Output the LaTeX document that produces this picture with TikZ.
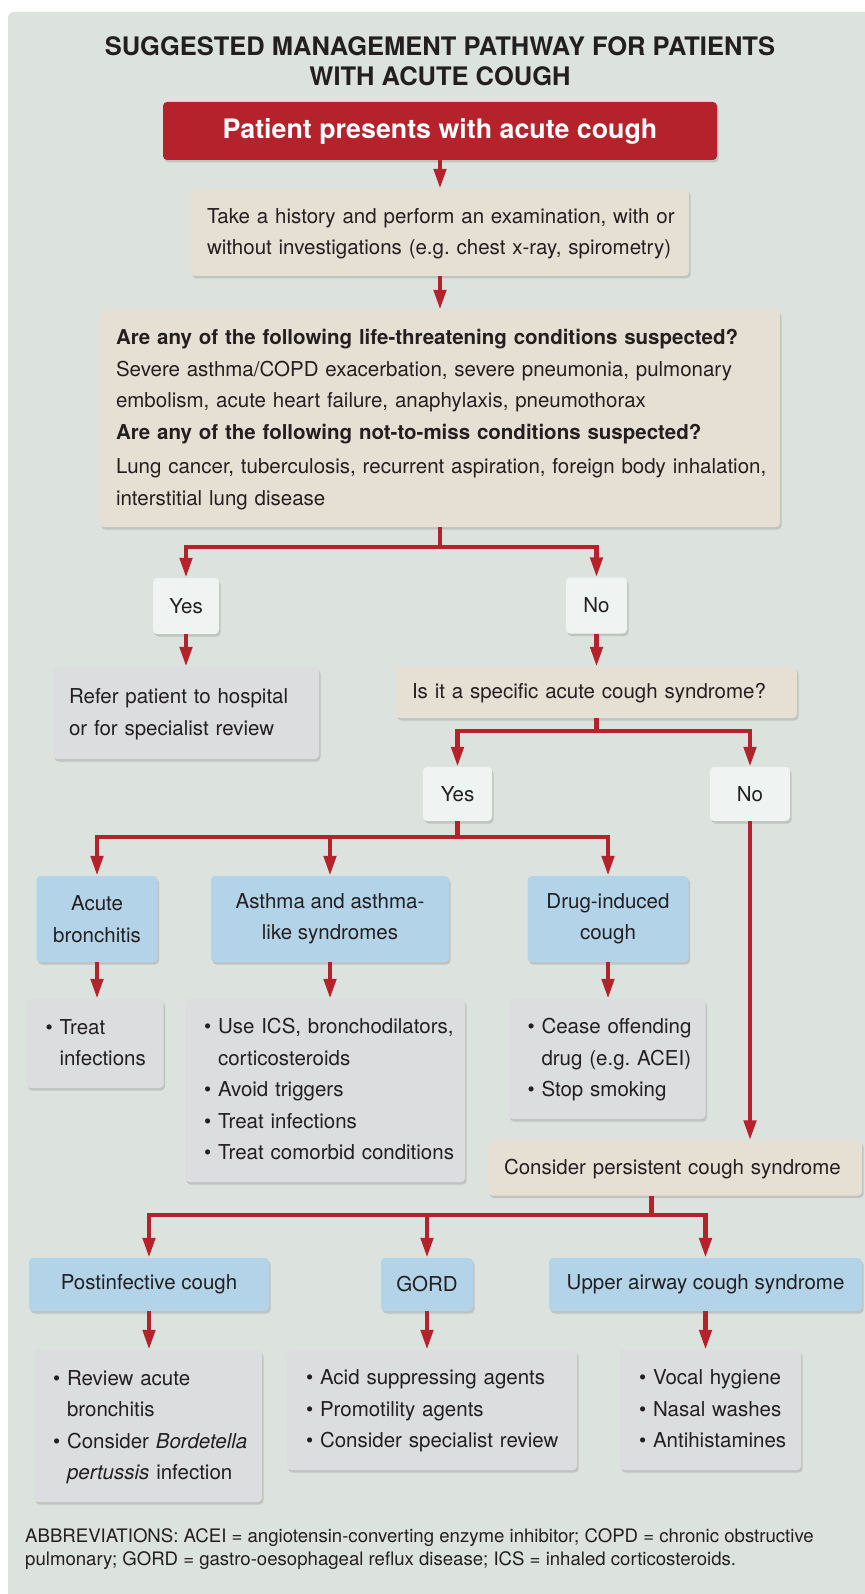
\documentclass[tikz,border=0pt]{standalone}
\usepackage{fontspec}
\setmainfont{TeX Gyre Heros}
\usetikzlibrary{arrows.meta,shadows}
\definecolor{panelbg}{HTML}{DCE2DE}
\definecolor{coughred}{HTML}{B5222B}
\definecolor{tanbox}{HTML}{E6DFD4}
\definecolor{greybox}{HTML}{DCDDDF}
\definecolor{bluebox}{HTML}{B3D4E8}
\definecolor{ynbox}{HTML}{EFF3F1}
\definecolor{ink}{HTML}{231F20}
\newcommand{\pbul}{\textbullet\ }
\newcommand{\pind}{\hphantom{\textbullet\ }}
\newcommand{\boxtext}[1]{\noindent\begin{tabular}{@{}l@{}}#1\end{tabular}}
\frenchspacing

\begin{document}
\begin{tikzpicture}[x=1pt,y=-1pt,
  every node/.style={text=ink},
  body/.style={font=\fontsize{20.5}{31.5}\selectfont},
  shade/.style={rounded corners=4pt,
    drop shadow={shadow xshift=1.5pt,shadow yshift=-2.5pt,opacity=.2,fill=black!70}},
  lbox/.style={shade,body,fill=#1,inner xsep=16pt,inner ysep=0pt,align=left},
  cbox/.style={shade,body,fill=#1,inner sep=0pt,align=center},
  arr/.style={draw=coughred,line width=4.5pt,-{Triangle[width=12pt,length=20pt]}}]
\useasboundingbox (0,0) rectangle (864,1594);
\fill[white] (0,0) rectangle (864,1594);
\fill[panelbg,rounded corners=6pt] (8,12) rectangle (880,1610);
% title
\node[font=\bfseries\fontsize{25.5}{30}\selectfont,align=center] (title) at (440,61)
  {SUGGESTED MANAGEMENT PATHWAY FOR PATIENTS\\WITH ACUTE COUGH};
% first steps
\node[cbox=coughred,text=white,font=\bfseries\fontsize{26.8}{30}\selectfont,
  minimum width=554pt,minimum height=58pt] (start) at (440,131) {Patient presents with acute cough};
\node[lbox=tanbox,text width=466pt,minimum height=87pt] (hist) at (440,232.5)
  {\boxtext{Take a history and perform an examination, with or\\
  without investigations (e.g. chest x-ray, spirometry)}};
\node[lbox=tanbox,text width=648pt,minimum height=217pt] (danger) at (440,418.5)
  {\boxtext{\textbf{Are any of the following life-threatening conditions suspected?}\\
  Severe asthma/COPD exacerbation, severe pneumonia, pulmonary\\
  embolism, acute heart failure, anaphylaxis, pneumothorax\\
  \textbf{Are any of the following not-to-miss conditions suspected?}\\[3pt]
  Lung cancer, tuberculosis, recurrent aspiration, foreign body inhalation,\\
  interstitial lung disease}};
% yes / no
\node[cbox=ynbox,minimum width=66pt,minimum height=56pt] (yes1) at (186,606) {Yes};
\node[cbox=ynbox,minimum width=61pt,minimum height=56pt] (no1) at (596.5,605.5) {No};
\node[lbox=greybox,text width=234pt,minimum height=92pt] (refer) at (186,713)
  {\boxtext{Refer patient to hospital\\or for specialist review}};
\node[lbox=tanbox,text width=369pt,minimum height=51pt] (specific) at (596.5,692.5)
  {\boxtext{Is it a specific acute cough syndrome?}};
\node[cbox=ynbox,minimum width=69pt,minimum height=54pt] (yes2) at (457.5,794) {Yes};
\node[cbox=ynbox,minimum width=80pt,minimum height=54pt] (no2) at (750,794) {No};
% acute syndromes
\node[cbox=bluebox,minimum width=121pt,minimum height=86pt] (acute) at (97,919) {Acute\\bronchitis};
\node[cbox=bluebox,minimum width=238pt,minimum height=86pt] (asthma) at (330,919) {Asthma and asthma-\\like syndromes};
\node[cbox=bluebox,minimum width=161pt,minimum height=86pt] (drug) at (608,919) {Drug-induced\\cough};
\node[lbox=greybox,inner xsep=19pt,text width=99pt,minimum height=89pt] (treat) at (95,1043.5)
  {\boxtext{\pbul Treat\\\pind infections}};
\node[lbox=greybox,inner xsep=19pt,text width=242pt,minimum height=183pt] (ics) at (325,1090.5)
  {\boxtext{\pbul Use ICS, bronchodilators,\\\pind corticosteroids\\\pbul Avoid triggers\\
  \pbul Treat infections\\\pbul Treat comorbid conditions}};
\node[lbox=greybox,inner xsep=19pt,text width=159pt,minimum height=120pt] (cease) at (607,1059)
  {\boxtext{\pbul Cease offending\\\pind drug (e.g. ACEI)\\\pbul Stop smoking}};
% persistent cough
\node[lbox=tanbox,text width=342pt,minimum height=55pt] (persist) at (675,1168)
  {\boxtext{Consider persistent cough syndrome}};
\node[cbox=bluebox,minimum width=240pt,minimum height=53pt] (postinf) at (149,1284.5) {Postinfective cough};
\node[cbox=bluebox,minimum width=92pt,minimum height=53pt] (gord) at (427,1284.5) {GORD};
\node[cbox=bluebox,minimum width=313pt,minimum height=53pt] (upper) at (705.5,1284.5) {Upper airway cough syndrome};
\node[lbox=greybox,inner xsep=19pt,text width=190pt,minimum height=152pt] (review) at (148,1426)
  {\boxtext{\pbul Review acute\\\pind bronchitis\\\pbul Consider \textit{Bordetella}\\
  \pind\textit{pertussis} infection}};
\node[lbox=greybox,inner xsep=19pt,text width=252pt,minimum height=120pt] (acid) at (432,1410)
  {\boxtext{\pbul Acid suppressing agents\\\pbul Promotility agents\\\pbul Consider specialist review}};
\node[lbox=greybox,inner xsep=19pt,text width=143pt,minimum height=120pt] (vocal) at (710.5,1410)
  {\boxtext{\pbul Vocal hygiene\\\pbul Nasal washes\\\pbul Antihistamines}};
% footnote
\node[font=\fontsize{18.6}{22.5}\selectfont,align=left,anchor=west,inner sep=0pt] (abbr) at (25,1549)
  {ABBREVIATIONS: ACEI = angiotensin-converting enzyme inhibitor; COPD = chronic obstructive\\
  pulmonary; GORD = gastro-oesophageal reflux disease; ICS = inhaled corticosteroids.};
% connectors
\coordinate (j1) at (440,547);
\coordinate (j2) at (596.5,731);
\coordinate (j3) at (457.5,837);
\coordinate (j4) at (651.5,1215);
\draw[arr] (start) -- (hist);
\draw[arr] (hist) -- (danger);
\draw[arr] (danger.south) -- (j1) -| (yes1);
\draw[arr] (j1) -| (no1);
\draw[arr] (yes1) -- (refer);
\draw[arr] (no1) -- (specific);
\draw[arr] (specific.south) -- (j2) -| (yes2);
\draw[arr] (j2) -| (no2);
\draw[arr] (yes2) -- (j3) -| (acute);
\draw[arr] (j3) -| (asthma);
\draw[arr] (j3) -| (drug);
\draw[arr] (acute) -- (acute |- treat.north);
\draw[arr] (asthma) -- (asthma |- ics.north);
\draw[arr] (drug) -- (drug |- cease.north);
\draw[arr] (no2) -- (no2 |- persist.north);
\draw[arr] (j4 |- persist.south) -- (j4) -| (postinf);
\draw[arr] (j4) -| (gord);
\draw[arr] (j4) -| (upper);
\draw[arr] (postinf) -- (postinf |- review.north);
\draw[arr] (gord) -- (gord |- acid.north);
\draw[arr] (upper) -- (upper |- vocal.north);
\end{tikzpicture}
\end{document}
